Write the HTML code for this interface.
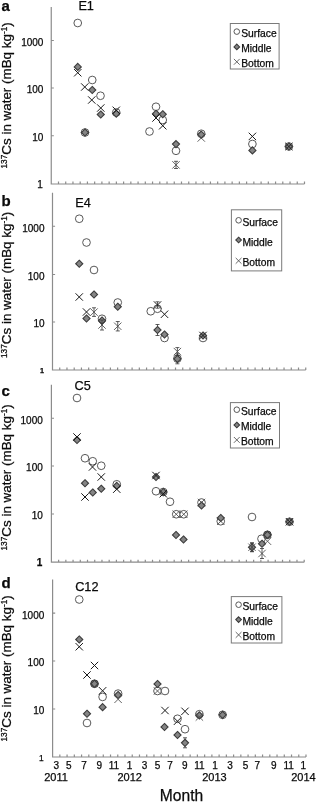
<!DOCTYPE html>
<html lang="en"><head><meta charset="utf-8"><title>137Cs in water</title>
<style>html,body{margin:0;padding:0;background:#fff}body{width:320px;height:802px;overflow:hidden}svg{display:block}text{font-family:"Liberation Sans",Arial,Helvetica,sans-serif;fill:#0a0a0a;stroke:#0a0a0a;stroke-width:0.25px}.t10{font-size:10px}.t12{font-size:12.7px}.tl{font-size:10.3px}.t11{font-size:11px}.lt{font-size:15px;font-weight:bold}.yl{font-size:13.4px}.sup{font-size:8.3px}.ax{stroke:#8c8c8c;stroke-width:1.2;fill:none}.c{fill:#fff;stroke:#505050;stroke-width:0.95}.d{fill:#858585;stroke:#3c3c3c;stroke-width:1.1}.x{stroke:#1a1a1a;stroke-width:1;fill:none}.xl{stroke:#444;stroke-width:0.8;fill:none}.x2{stroke:#484848;stroke-width:0.85;fill:none}.c2{fill:#858585;stroke:#3c3c3c;stroke-width:1}.e{stroke:#333;stroke-width:0.8;fill:none}.lg{fill:#fff;stroke:#7a7a7a;stroke-width:1}</style></head><body>
<svg width="320" height="802" viewBox="0 0 320 802">
<rect width="320" height="802" fill="#fff"/>
<g>
<path class="ax" d="M51.25 7V184H304.5M51.25 40.5h2.6M51.25 88h2.6M51.25 135.75h2.6M58.49 184v-2.4M65.72 184v-2.4M72.96 184v-2.4M80.19 184v-2.4M87.43 184v-2.4M94.66 184v-2.4M101.9 184v-2.4M109.14 184v-2.4M116.37 184v-2.4M123.61 184v-2.4M130.84 184v-2.4M138.08 184v-2.4M145.31 184v-2.4M152.55 184v-2.4M159.79 184v-2.4M167.02 184v-2.4M174.26 184v-2.4M181.49 184v-2.4M188.73 184v-2.4M195.96 184v-2.4M203.2 184v-2.4M210.44 184v-2.4M217.67 184v-2.4M224.91 184v-2.4M232.14 184v-2.4M239.38 184v-2.4M246.61 184v-2.4M253.85 184v-2.4M261.09 184v-2.4M268.32 184v-2.4M275.56 184v-2.4M282.79 184v-2.4M290.03 184v-2.4M297.26 184v-2.4M304.5 184v-2.4"/>
<text class="t10" text-anchor="end" x="43.4" y="45.9">1000</text>
<text class="t10" text-anchor="end" x="43.4" y="93.4">100</text>
<text class="t10" text-anchor="end" x="43.4" y="141.15">10</text>
<text text-anchor="end" x="42.8" y="188.4" style="font-size:10px">1</text>
<text class="yl" transform="translate(11.4 168.5) rotate(-90)"><tspan class="sup" dy="-4">137</tspan><tspan dy="4">Cs in water (mBq kg</tspan><tspan class="sup" dy="-4">-1</tspan><tspan dy="4">)</tspan></text>
<text class="lt" x="1.6" y="10.7">a</text>
<text class="t12" x="78.4" y="10.4">E1</text>
<rect class="lg" x="230.3" y="23.5" width="48.8" height="45.5"/>
<circle class="c" cx="236.8" cy="31.6" r="2.8"/>
<text class="tl" x="241.2" y="36.9">Surface</text>
<path class="d" d="M236.8 44.1L239.6 46.9L236.8 49.7L234 46.9Z"/>
<text class="tl" x="241.2" y="51.9">Middle</text>
<path class="xl" d="M233.9 58.9L239.7 64.7M233.9 64.7L239.7 58.9"/>
<text class="tl" x="241.2" y="66.9">Bottom</text>
<circle class="c" cx="77.75" cy="23" r="3.85"/>
<circle class="c" cx="92.25" cy="80" r="3.85"/>
<circle class="c" cx="100.5" cy="95.75" r="3.85"/>
<circle class="c" cx="116.25" cy="112.5" r="3.85"/>
<circle class="c" cx="85" cy="132.5" r="3.85"/>
<circle class="c" cx="149.5" cy="131.5" r="3.85"/>
<circle class="c" cx="156" cy="106.75" r="3.85"/>
<circle class="c" cx="162.75" cy="120" r="3.85"/>
<circle class="c" cx="176" cy="150.8" r="3.85"/>
<circle class="c" cx="201.25" cy="133.75" r="3.85"/>
<circle class="c" cx="252.4" cy="144" r="3.85"/>
<circle class="c" cx="288.9" cy="146.5" r="3.85"/>
<path class="d" d="M77.75 63.35L81.3 66.9L77.75 70.45L74.2 66.9Z"/>
<path class="d" d="M92.25 86.45L95.8 90L92.25 93.55L88.7 90Z"/>
<path class="d" d="M100.75 110.95L104.3 114.5L100.75 118.05L97.2 114.5Z"/>
<path class="d" d="M116.25 110.05L119.8 113.6L116.25 117.15L112.7 113.6Z"/>
<path class="d" d="M85 128.95L88.55 132.5L85 136.05L81.45 132.5Z"/>
<path class="d" d="M156 110.2L159.55 113.75L156 117.3L152.45 113.75Z"/>
<path class="d" d="M162.75 110.7L166.3 114.25L162.75 117.8L159.2 114.25Z"/>
<path class="d" d="M176 140.55L179.55 144.1L176 147.65L172.45 144.1Z"/>
<path class="d" d="M201.25 131.05L204.8 134.6L201.25 138.15L197.7 134.6Z"/>
<path class="d" d="M252.4 146.85L255.95 150.4L252.4 153.95L248.85 150.4Z"/>
<path class="d" d="M288.9 142.95L292.45 146.5L288.9 150.05L285.35 146.5Z"/>
<path class="x" d="M74.05 69.05L81.45 76.45M74.05 76.45L81.45 69.05"/>
<path class="x" d="M81.05 83.3L88.45 90.7M81.05 90.7L88.45 83.3"/>
<path class="x" d="M88.05 96.3L95.45 103.7M88.05 103.7L95.45 96.3"/>
<path class="x" d="M97.05 104.3L104.45 111.7M97.05 111.7L104.45 104.3"/>
<path class="x" d="M112.55 106.6L119.95 114M112.55 114L119.95 106.6"/>
<path class="x" d="M152.3 114.3L159.7 121.7M152.3 121.7L159.7 114.3"/>
<path class="x" d="M159.05 122.05L166.45 129.45M159.05 129.45L166.45 122.05"/>
<path class="e" d="M176 161.3V168.5M174 161.3H178M174 168.5H178"/>
<path class="x2" d="M172.3 161.2L179.7 168.6M172.3 168.6L179.7 161.2"/>
<path class="x2" d="M197.55 134.3L204.95 141.7M197.55 141.7L204.95 134.3"/>
<path class="x" d="M248.7 132.7L256.1 140.1M248.7 140.1L256.1 132.7"/>
<path class="x" d="M285.2 142.8L292.6 150.2M285.2 150.2L292.6 142.8"/>
</g>
<g>
<path class="ax" d="M52.5 192.8V370H305.75M52.5 226.25h2.6M52.5 274.5h2.6M52.5 322h2.6M59.74 370v-2.4M66.97 370v-2.4M74.21 370v-2.4M81.44 370v-2.4M88.68 370v-2.4M95.91 370v-2.4M103.15 370v-2.4M110.39 370v-2.4M117.62 370v-2.4M124.86 370v-2.4M132.09 370v-2.4M139.33 370v-2.4M146.56 370v-2.4M153.8 370v-2.4M161.04 370v-2.4M168.27 370v-2.4M175.51 370v-2.4M182.74 370v-2.4M189.98 370v-2.4M197.21 370v-2.4M204.45 370v-2.4M211.69 370v-2.4M218.92 370v-2.4M226.16 370v-2.4M233.39 370v-2.4M240.63 370v-2.4M247.86 370v-2.4M255.1 370v-2.4M262.34 370v-2.4M269.57 370v-2.4M276.81 370v-2.4M284.04 370v-2.4M291.28 370v-2.4M298.51 370v-2.4M305.75 370v-2.4"/>
<text class="t10" text-anchor="end" x="44.5" y="231.65">1000</text>
<text class="t10" text-anchor="end" x="44.5" y="279.9">100</text>
<text class="t10" text-anchor="end" x="44.5" y="327.4">10</text>
<text text-anchor="end" x="43.9" y="372.75" style="font-size:7.2px;font-weight:bold">1</text>
<text class="yl" transform="translate(11.4 358) rotate(-90)"><tspan class="sup" dy="-4">137</tspan><tspan dy="4">Cs in water (mBq kg</tspan><tspan class="sup" dy="-4">-1</tspan><tspan dy="4">)</tspan></text>
<text class="lt" x="1.6" y="205.5">b</text>
<text class="t12" x="75.2" y="207">E4</text>
<rect class="lg" x="231.4" y="209.8" width="50.3" height="61.1"/>
<circle class="c" cx="238.6" cy="220.3" r="2.8"/>
<text class="tl" x="242.4" y="225.8">Surface</text>
<path class="d" d="M238.6 237.2L241.4 240L238.6 242.8L235.8 240Z"/>
<text class="tl" x="242.4" y="245.8">Middle</text>
<path class="xl" d="M235.7 257.9L241.5 263.7M235.7 263.7L241.5 257.9"/>
<text class="tl" x="242.4" y="265.5">Bottom</text>
<circle class="c" cx="79.25" cy="218.75" r="3.85"/>
<circle class="c" cx="86.5" cy="242.5" r="3.85"/>
<circle class="c" cx="94" cy="270" r="3.85"/>
<circle class="c" cx="117.75" cy="302.5" r="3.85"/>
<circle class="c" cx="102" cy="318.75" r="3.85"/>
<circle class="c" cx="150.75" cy="311.25" r="3.85"/>
<circle class="c" cx="157.5" cy="308.75" r="3.85"/>
<circle class="c" cx="164.5" cy="338" r="3.85"/>
<circle class="c" cx="177.4" cy="358.6" r="3.85"/>
<circle class="c" cx="203" cy="338" r="3.85"/>
<path class="d" d="M79.25 260.2L82.8 263.75L79.25 267.3L75.7 263.75Z"/>
<path class="d" d="M94 290.95L97.55 294.5L94 298.05L90.45 294.5Z"/>
<path class="d" d="M117.75 303.2L121.3 306.75L117.75 310.3L114.2 306.75Z"/>
<path class="d" d="M86.5 314.95L90.05 318.5L86.5 322.05L82.95 318.5Z"/>
<path class="d" d="M102 316.95L105.55 320.5L102 324.05L98.45 320.5Z"/>
<path class="e" d="M157.5 324.5V335.5M155.5 324.5H159.5M155.5 335.5H159.5"/>
<path class="d" d="M157.5 326.45L161.05 330L157.5 333.55L153.95 330Z"/>
<path class="d" d="M164.5 330.95L168.05 334.5L164.5 338.05L160.95 334.5Z"/>
<path class="e" d="M177.4 353.8V363.8M175.4 353.8H179.4M175.4 363.8H179.4"/>
<path class="d" d="M177.4 355.25L180.95 358.8L177.4 362.35L173.85 358.8Z"/>
<path class="d" d="M203 331.95L206.55 335.5L203 339.05L199.45 335.5Z"/>
<path class="x" d="M75.55 293.3L82.95 300.7M75.55 300.7L82.95 293.3"/>
<path class="x" d="M82.8 308.3L90.2 315.7M82.8 315.7L90.2 308.3"/>
<path class="e" d="M94 307.8V316.4M92 307.8H96M92 316.4H96"/>
<path class="x2" d="M90.3 308.4L97.7 315.8M90.3 315.8L97.7 308.4"/>
<path class="e" d="M102 320V330M100 320H104M100 330H104"/>
<path class="x2" d="M98.3 321.3L105.7 328.7M98.3 328.7L105.7 321.3"/>
<path class="e" d="M117.75 321.55V330.95M115.75 321.55H119.75M115.75 330.95H119.75"/>
<path class="x2" d="M114.05 322.55L121.45 329.95M114.05 329.95L121.45 322.55"/>
<path class="e" d="M157.5 301.8V308.2M155.5 301.8H159.5M155.5 308.2H159.5"/>
<path class="x" d="M153.8 301.3L161.2 308.7M153.8 308.7L161.2 301.3"/>
<path class="x" d="M160.8 310.55L168.2 317.95M160.8 317.95L168.2 310.55"/>
<path class="e" d="M177.4 347.6V355.6M175.4 347.6H179.4M175.4 355.6H179.4"/>
<path class="x2" d="M173.7 347.9L181.1 355.3M173.7 355.3L181.1 347.9"/>
<path class="x" d="M199.3 331.8L206.7 339.2M199.3 339.2L206.7 331.8"/>
</g>
<g>
<path class="ax" d="M51.4 384.8V562.2H304.2M51.4 418.25h2.6M51.4 466h2.6M51.4 514h2.6M58.62 562.2v-2.4M65.85 562.2v-2.4M73.07 562.2v-2.4M80.29 562.2v-2.4M87.51 562.2v-2.4M94.74 562.2v-2.4M101.96 562.2v-2.4M109.18 562.2v-2.4M116.41 562.2v-2.4M123.63 562.2v-2.4M130.85 562.2v-2.4M138.07 562.2v-2.4M145.3 562.2v-2.4M152.52 562.2v-2.4M159.74 562.2v-2.4M166.97 562.2v-2.4M174.19 562.2v-2.4M181.41 562.2v-2.4M188.63 562.2v-2.4M195.86 562.2v-2.4M203.08 562.2v-2.4M210.3 562.2v-2.4M217.53 562.2v-2.4M224.75 562.2v-2.4M231.97 562.2v-2.4M239.19 562.2v-2.4M246.42 562.2v-2.4M253.64 562.2v-2.4M260.86 562.2v-2.4M268.09 562.2v-2.4M275.31 562.2v-2.4M282.53 562.2v-2.4M289.75 562.2v-2.4M296.98 562.2v-2.4M304.2 562.2v-2.4"/>
<text class="t10" text-anchor="end" x="42.8" y="423.65">1000</text>
<text class="t10" text-anchor="end" x="42.8" y="471.4">100</text>
<text class="t10" text-anchor="end" x="42.8" y="519.4">10</text>
<text text-anchor="end" x="42.2" y="566.4" style="font-size:10px;font-weight:bold">1</text>
<text class="yl" transform="translate(11.4 550.5) rotate(-90)"><tspan class="sup" dy="-4">137</tspan><tspan dy="4">Cs in water (mBq kg</tspan><tspan class="sup" dy="-4">-1</tspan><tspan dy="4">)</tspan></text>
<text class="lt" x="1.6" y="396.25">c</text>
<text class="t12" x="74.6" y="390">C5</text>
<rect class="lg" x="230.4" y="402.6" width="49.1" height="45.4"/>
<circle class="c" cx="236.8" cy="409.7" r="2.8"/>
<text class="tl" x="241" y="415.2">Surface</text>
<path class="d" d="M236.8 422.2L239.6 425L236.8 427.8L234 425Z"/>
<text class="tl" x="241" y="430.1">Middle</text>
<path class="xl" d="M233.9 437L239.7 442.8M233.9 442.8L239.7 437"/>
<text class="tl" x="241" y="445.2">Bottom</text>
<circle class="c" cx="77" cy="398" r="3.85"/>
<circle class="c" cx="85" cy="458.25" r="3.85"/>
<circle class="c" cx="92.75" cy="461.25" r="3.85"/>
<circle class="c" cx="101.25" cy="465.75" r="3.85"/>
<circle class="c" cx="116.75" cy="484.3" r="3.85"/>
<circle class="c" cx="156" cy="491.25" r="3.85"/>
<circle class="c" cx="163.25" cy="492" r="3.85"/>
<circle class="c" cx="170" cy="501.75" r="3.85"/>
<circle class="c" cx="176.25" cy="514.25" r="3.85"/>
<circle class="c" cx="183.75" cy="514.25" r="3.85"/>
<circle class="c" cx="201.5" cy="502.5" r="3.85"/>
<circle class="c" cx="220.75" cy="521.25" r="3.85"/>
<circle class="c" cx="252" cy="517" r="3.85"/>
<circle class="c" cx="261.5" cy="538.75" r="3.85"/>
<circle class="c2" cx="267.4" cy="534.8" r="3.85"/>
<circle class="c" cx="289.5" cy="521.75" r="3.85"/>
<path class="d" d="M77 436.45L80.55 440L77 443.55L73.45 440Z"/>
<path class="d" d="M85 479.7L88.55 483.25L85 486.8L81.45 483.25Z"/>
<path class="d" d="M92.75 488.95L96.3 492.5L92.75 496.05L89.2 492.5Z"/>
<path class="d" d="M101.25 485.2L104.8 488.75L101.25 492.3L97.7 488.75Z"/>
<path class="d" d="M116.75 482.35L120.3 485.9L116.75 489.45L113.2 485.9Z"/>
<path class="d" d="M156 473.45L159.55 477L156 480.55L152.45 477Z"/>
<path class="d" d="M163.25 488.45L166.8 492L163.25 495.55L159.7 492Z"/>
<path class="d" d="M176 531.45L179.55 535L176 538.55L172.45 535Z"/>
<path class="d" d="M183.5 535.95L187.05 539.5L183.5 543.05L179.95 539.5Z"/>
<path class="d" d="M201.5 501.95L205.05 505.5L201.5 509.05L197.95 505.5Z"/>
<path class="d" d="M220.75 514.45L224.3 518L220.75 521.55L217.2 518Z"/>
<path class="e" d="M252 543.25V551.25M250 543.25H254M250 551.25H254"/>
<path class="d" d="M252 543.7L255.55 547.25L252 550.8L248.45 547.25Z"/>
<path class="d" d="M262 540.2L265.55 543.75L262 547.3L258.45 543.75Z"/>
<path class="d" d="M267.4 531.25L270.95 534.8L267.4 538.35L263.85 534.8Z"/>
<path class="d" d="M289.5 518.2L293.05 521.75L289.5 525.3L285.95 521.75Z"/>
<path class="x" d="M73.3 433.3L80.7 440.7M73.3 440.7L80.7 433.3"/>
<path class="x" d="M81.3 493.3L88.7 500.7M81.3 500.7L88.7 493.3"/>
<path class="x" d="M88.8 463.3L96.2 470.7M88.8 470.7L96.2 463.3"/>
<path class="x" d="M97.55 473.3L104.95 480.7M97.55 480.7L104.95 473.3"/>
<path class="x" d="M113.05 485.5L120.45 492.9M113.05 492.9L120.45 485.5"/>
<path class="x" d="M152.3 471.8L159.7 479.2M152.3 479.2L159.7 471.8"/>
<path class="x" d="M159.55 490.05L166.95 497.45M159.55 497.45L166.95 490.05"/>
<path class="x2" d="M172.55 510.55L179.95 517.95M172.55 517.95L179.95 510.55"/>
<path class="x2" d="M180.05 510.55L187.45 517.95M180.05 517.95L187.45 510.55"/>
<path class="x2" d="M197.8 498.8L205.2 506.2M197.8 506.2L205.2 498.8"/>
<path class="x2" d="M217.05 517.55L224.45 524.95M217.05 524.95L224.45 517.55"/>
<path class="e" d="M252 542.75V551.75M250 542.75H254M250 551.75H254"/>
<path class="x2" d="M248.3 543.55L255.7 550.95M248.3 550.95L255.7 543.55"/>
<path class="e" d="M262 548.5V558.5M260 548.5H264M260 558.5H264"/>
<path class="x2" d="M258.3 549.8L265.7 557.2M258.3 557.2L265.7 549.8"/>
<path class="x2" d="M263.8 537.55L271.2 544.95M263.8 544.95L271.2 537.55"/>
<path class="x" d="M285.8 518.05L293.2 525.45M285.8 525.45L293.2 518.05"/>
</g>
<g>
<path class="ax" d="M52.6 579.5V757H306M52.6 613.1h2.6M52.6 661h2.6M52.6 709h2.6M59.84 757v-2.4M67.08 757v-2.4M74.32 757v-2.4M81.56 757v-2.4M88.8 757v-2.4M96.04 757v-2.4M103.28 757v-2.4M110.52 757v-2.4M117.76 757v-2.4M125 757v-2.4M132.24 757v-2.4M139.48 757v-2.4M146.72 757v-2.4M153.96 757v-2.4M161.2 757v-2.4M168.44 757v-2.4M175.68 757v-2.4M182.92 757v-2.4M190.16 757v-2.4M197.4 757v-2.4M204.64 757v-2.4M211.88 757v-2.4M219.12 757v-2.4M226.36 757v-2.4M233.6 757v-2.4M240.84 757v-2.4M248.08 757v-2.4M255.32 757v-2.4M262.56 757v-2.4M269.8 757v-2.4M277.04 757v-2.4M284.28 757v-2.4M291.52 757v-2.4M298.76 757v-2.4M306 757v-2.4"/>
<text class="t10" text-anchor="end" x="44.3" y="618.5">1000</text>
<text class="t10" text-anchor="end" x="44.3" y="666.4">100</text>
<text class="t10" text-anchor="end" x="44.3" y="714.4">10</text>
<text text-anchor="end" x="43.7" y="760.7" style="font-size:8.4px">1</text>
<text class="yl" transform="translate(11.4 741.5) rotate(-90)"><tspan class="sup" dy="-4">137</tspan><tspan dy="4">Cs in water (mBq kg</tspan><tspan class="sup" dy="-4">-1</tspan><tspan dy="4">)</tspan></text>
<text class="lt" x="1.6" y="588.25">d</text>
<text class="t12" x="75.2" y="591.25">C12</text>
<rect class="lg" x="231.3" y="596.6" width="50.6" height="46.4"/>
<circle class="c" cx="238.6" cy="604.7" r="2.8"/>
<text class="tl" x="242.4" y="609.8">Surface</text>
<path class="d" d="M238.6 616.8L241.4 619.6L238.6 622.4L235.8 619.6Z"/>
<text class="tl" x="242.4" y="625.2">Middle</text>
<path class="xl" d="M235.7 632L241.5 637.8M235.7 637.8L241.5 632"/>
<text class="tl" x="242.4" y="640.4">Bottom</text>
<circle class="c" cx="79.25" cy="599.5" r="3.85"/>
<circle class="c2" cx="94.5" cy="683.75" r="3.85"/>
<circle class="c" cx="102.6" cy="696.9" r="3.85"/>
<circle class="c" cx="118.1" cy="693.6" r="3.85"/>
<circle class="c" cx="87" cy="723" r="3.85"/>
<circle class="c" cx="157.5" cy="691" r="3.85"/>
<circle class="c" cx="165" cy="691" r="3.85"/>
<circle class="c" cx="177.5" cy="718.75" r="3.85"/>
<circle class="c" cx="185" cy="729.2" r="3.85"/>
<circle class="c" cx="199.4" cy="714.2" r="3.85"/>
<circle class="c" cx="222.6" cy="714.8" r="3.85"/>
<path class="d" d="M79.25 635.95L82.8 639.5L79.25 643.05L75.7 639.5Z"/>
<path class="d" d="M94.5 680.2L98.05 683.75L94.5 687.3L90.95 683.75Z"/>
<path class="d" d="M102.6 703.65L106.15 707.2L102.6 710.75L99.05 707.2Z"/>
<path class="d" d="M118.1 691.45L121.65 695L118.1 698.55L114.55 695Z"/>
<path class="d" d="M87 710.2L90.55 713.75L87 717.3L83.45 713.75Z"/>
<path class="d" d="M157.5 680.45L161.05 684L157.5 687.55L153.95 684Z"/>
<path class="d" d="M164.5 723.45L168.05 727L164.5 730.55L160.95 727Z"/>
<path class="d" d="M177.5 731.45L181.05 735L177.5 738.55L173.95 735Z"/>
<path class="e" d="M185 737.8V747.8M183 737.8H187M183 747.8H187"/>
<path class="d" d="M185 739.25L188.55 742.8L185 746.35L181.45 742.8Z"/>
<path class="d" d="M199.4 711.85L202.95 715.4L199.4 718.95L195.85 715.4Z"/>
<path class="d" d="M222.6 711.25L226.15 714.8L222.6 718.35L219.05 714.8Z"/>
<path class="x" d="M75.55 643.05L82.95 650.45M75.55 650.45L82.95 643.05"/>
<path class="x" d="M90.8 661.8L98.2 669.2M90.8 669.2L98.2 661.8"/>
<path class="x" d="M83.3 671.3L90.7 678.7M83.3 678.7L90.7 671.3"/>
<path class="x" d="M98.9 687.1L106.3 694.5M98.9 694.5L106.3 687.1"/>
<path class="x2" d="M114.4 695.6L121.8 703M114.4 703L121.8 695.6"/>
<path class="x2" d="M153.8 687.3L161.2 694.7M153.8 694.7L161.2 687.3"/>
<path class="x" d="M161.3 706.8L168.7 714.2M161.3 714.2L168.7 706.8"/>
<path class="x" d="M181.3 707.6L188.7 715M181.3 715L188.7 707.6"/>
<path class="x" d="M173.8 717.55L181.2 724.95M173.8 724.95L181.2 717.55"/>
<path class="x2" d="M195.7 713.3L203.1 720.7M195.7 720.7L203.1 713.3"/>
</g>
<text class="t10" text-anchor="middle" x="56.25" y="768.7">3</text>
<text class="t10" text-anchor="middle" x="68.75" y="768.7">5</text>
<text class="t10" text-anchor="middle" x="84" y="768.7">7</text>
<text class="t10" text-anchor="middle" x="99.25" y="768.7">9</text>
<text class="t10" text-anchor="middle" x="114" y="768.7">11</text>
<text class="t10" text-anchor="middle" x="129.5" y="768.7">1</text>
<text class="t10" text-anchor="middle" x="144.5" y="768.7">3</text>
<text class="t10" text-anchor="middle" x="157.5" y="768.7">5</text>
<text class="t10" text-anchor="middle" x="170" y="768.7">7</text>
<text class="t10" text-anchor="middle" x="184.75" y="768.7">9</text>
<text class="t10" text-anchor="middle" x="199.5" y="768.7">11</text>
<text class="t10" text-anchor="middle" x="215" y="768.7">1</text>
<text class="t10" text-anchor="middle" x="230" y="768.7">3</text>
<text class="t10" text-anchor="middle" x="245.5" y="768.7">5</text>
<text class="t10" text-anchor="middle" x="257.25" y="768.7">7</text>
<text class="t10" text-anchor="middle" x="273.75" y="768.7">9</text>
<text class="t10" text-anchor="middle" x="288.75" y="768.7">11</text>
<text class="t10" text-anchor="middle" x="303.25" y="768.7">1</text>
<text class="t11" text-anchor="middle" x="56" y="781.1">2011</text>
<text class="t11" text-anchor="middle" x="129.75" y="781.1">2012</text>
<text class="t11" text-anchor="middle" x="214.4" y="781.1">2013</text>
<text class="t11" text-anchor="middle" x="303.5" y="781.1">2014</text>
<text x="159.8" y="801" style="font-size:15.6px">Month</text>
</svg></body></html>
